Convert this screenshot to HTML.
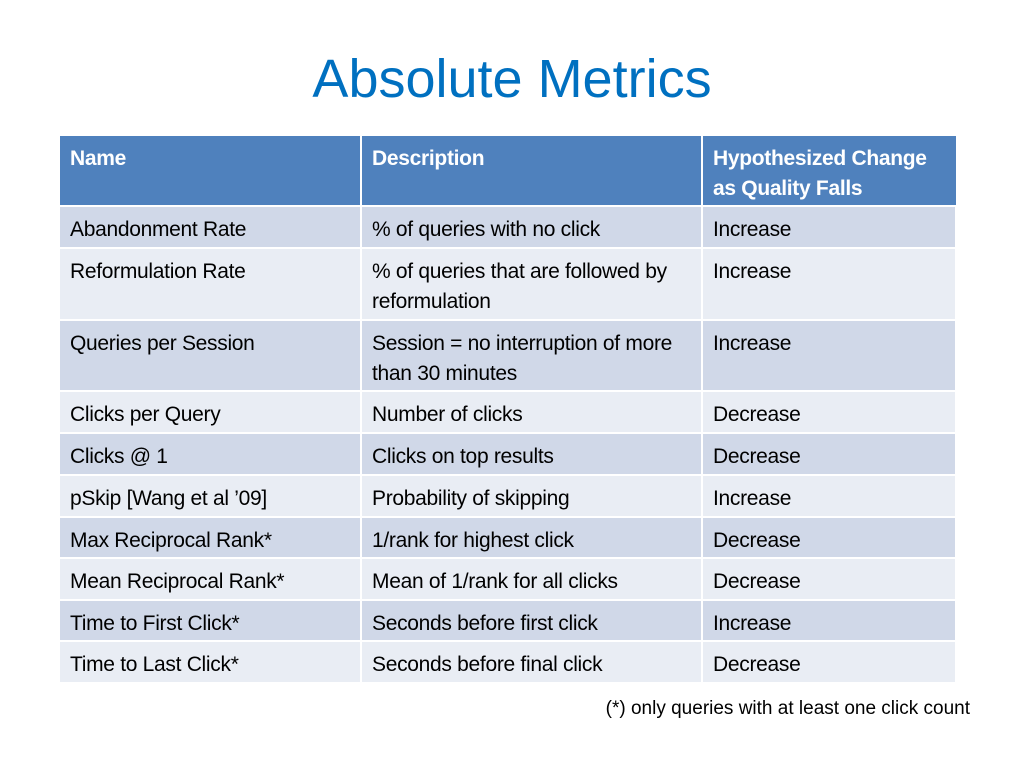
<!DOCTYPE html>
<html><head><meta charset="utf-8"><style>
body{margin:0;width:1024px;height:768px;background:#fff;position:relative;overflow:hidden;font-family:"Liberation Sans",sans-serif;}
.t{position:absolute;left:0;width:1024px;top:48px;text-align:center;font-size:54px;color:#0070C0;}
.c{position:absolute;box-sizing:border-box;padding:8px 10px 0 10px;font-size:21px;line-height:30px;color:#000;letter-spacing:-0.3px;}
.h{background:#4F81BD;color:#fff;font-weight:bold;}
.o{background:#D0D8E8;}
.e{background:#E9EDF4;}
.n{position:absolute;right:54px;top:698px;font-size:19px;}
</style></head><body>
<div class="t">Absolute Metrics</div>
<div id="tbl"></div>
<div class="n">(*) only queries with at least one click count</div>
<script>
const header=["Name","Description","Hypothesized Change as Quality Falls"];
const names=["Abandonment Rate","Reformulation Rate","Queries per Session","Clicks per Query","Clicks @ 1","pSkip [Wang et al ’09]","Max Reciprocal Rank*","Mean Reciprocal Rank*","Time to First Click*","Time to Last Click*"];
const descs=["% of queries with no click","% of queries that are followed by reformulation","Session = no interruption of more than 30 minutes","Number of clicks","Clicks on top results","Probability of skipping","1/rank for highest click","Mean of 1/rank for all clicks","Seconds before first click","Seconds before final click"];
const changes=["Increase","Increase","Increase","Decrease","Decrease","Increase","Decrease","Decrease","Increase","Decrease"];
const tops=[136,207,249,321,392,434,476,518,559,601,642,684];
const cols=[60,362,703,957];
const tbl=document.getElementById('tbl');
function cell(r,c,txt,cls){
  const d=document.createElement('div');
  
  
  d.className='c '+cls;
  d.style.left=cols[c]+'px';
  d.style.width=(cols[c+1]-cols[c]-2)+'px';
  d.style.top=tops[r]+'px';
  d.style.height=(tops[r+1]-tops[r]-2)+'px';
  d.textContent=txt;
  if(c===2&&r===0){d.style.width=(cols[c+1]-cols[c]-1)+'px';}
  tbl.appendChild(d);
}
header.forEach((h,i)=>cell(0,i,h,'h'));
for(let i=0;i<names.length;i++){
  const cls=i%2===0?'o':'e';
  cell(i+1,0,names[i],cls);cell(i+1,1,descs[i],cls);cell(i+1,2,changes[i],cls);
}
</script>
</body></html>
